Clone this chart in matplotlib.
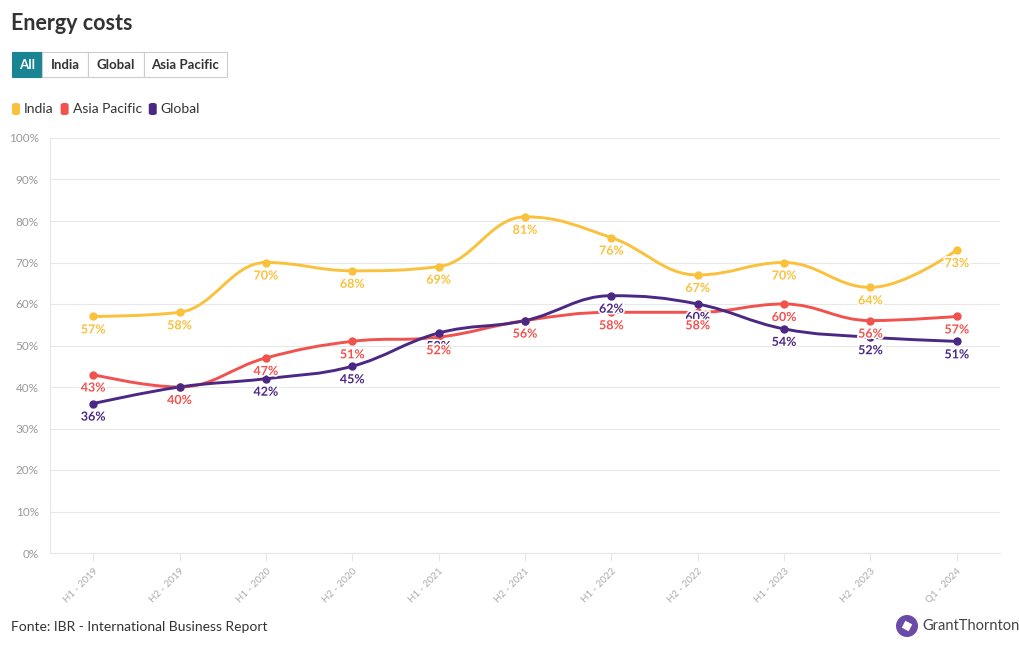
import matplotlib
matplotlib.use("Agg")
import matplotlib.pyplot as plt
import matplotlib.patheffects as pe
from matplotlib.path import Path
from matplotlib.patches import PathPatch, FancyBboxPatch, Rectangle, Circle, RegularPolygon

plt.rcParams['font.family'] = ['Lato', 'DejaVu Sans']

periods = ['H1 - 2019', 'H2 - 2019', 'H1 - 2020', 'H2 - 2020', 'H1 - 2021', 'H2 - 2021',
           'H1 - 2022', 'H2 - 2022', 'H1 - 2023', 'H2 - 2023', 'Q1 - 2024']
india = [57, 58, 70, 68, 69, 81, 76, 67, 70, 64, 73]
asia_pacific = [43, 40, 47, 51, 52, 56, 58, 58, 60, 56, 57]
global_ = [36, 40, 42, 45, 53, 56, 62, 60, 54, 52, 51]

series = [
    ('India', india, '#F9C13C'),
    ('Asia Pacific', asia_pacific, '#F1524E'),
    ('Global', global_, '#4A2883'),
]


def spline_path(xs, ys, smooth=1.5):
    # spline a la Highcharts : points de controle bezier autour de chaque point
    n = len(xs)
    left = [(xs[i], ys[i]) for i in range(n)]
    right = [(xs[i], ys[i]) for i in range(n)]
    den = smooth + 1
    for i in range(1, n - 1):
        x, y = xs[i], ys[i]
        lx, ly = xs[i - 1], ys[i - 1]
        nx, ny = xs[i + 1], ys[i + 1]
        lcx, lcy = (smooth * x + lx) / den, (smooth * y + ly) / den
        rcx, rcy = (smooth * x + nx) / den, (smooth * y + ny) / den
        if rcx != lcx:
            corr = (rcy - lcy) * (rcx - x) / (rcx - lcx) + y - rcy
            lcy += corr
            rcy += corr
        if lcy > ly and lcy > y:
            lcy = max(ly, y)
            rcy = 2 * y - lcy
        elif lcy < ly and lcy < y:
            lcy = min(ly, y)
            rcy = 2 * y - lcy
        if rcy > ny and rcy > y:
            rcy = max(ny, y)
            lcy = 2 * y - rcy
        elif rcy < ny and rcy < y:
            rcy = min(ny, y)
            lcy = 2 * y - rcy
        left[i] = (lcx, lcy)
        right[i] = (rcx, rcy)
    verts = [(xs[0], ys[0])]
    codes = [Path.MOVETO]
    for i in range(1, n):
        verts += [right[i - 1], left[i], (xs[i], ys[i])]
        codes += [Path.CURVE4] * 3
    return Path(verts, codes)


fig = plt.figure(figsize=(10.2, 6.5), dpi=100)
ax = fig.add_axes([50 / 1020, 1 - 553 / 650, 950 / 1020, 415 / 650])

x = list(range(len(periods)))
for name, vals, col in series:
    ax.add_patch(PathPatch(spline_path(x, vals), fill=False, edgecolor=col, lw=2.1,
                           zorder=3, capstyle='round', joinstyle='round'))
    ax.plot(x, vals, 'o', color=col, ms=5, zorder=4)

# etiquettes : celles de Global cachees quand elles tombent pile sur Asia Pacific
halo = [pe.withStroke(linewidth=2.5, foreground='white')]
for name, vals, col in [series[0], series[2], series[1]]:
    for xi, v in zip(x, vals):
        if name == 'Global' and v == asia_pacific[xi]:
            continue
        ax.annotate(f'{v}%', (xi, v), xytext=(0, -13), textcoords='offset pixels',
                    ha='center', va='center', fontsize=9, fontweight='bold',
                    color=col, zorder=5, path_effects=halo)

ax.set_xlim(-0.5, 10.5)
ax.set_ylim(0, 100)
ax.set_yticks(range(0, 101, 10))
ax.set_yticklabels([f'{v}%' for v in range(0, 101, 10)])
ax.set_xticks(x)
ax.set_xticklabels(periods, rotation=45, ha='right', rotation_mode='anchor')
ax.grid(axis='y', color='#e8e8e8', lw=0.8)
ax.set_axisbelow(True)
for s in ['top', 'right']:
    ax.spines[s].set_visible(False)
for s in ['left', 'bottom']:
    ax.spines[s].set_color('#e6e6e6')
    ax.spines[s].set_linewidth(0.8)
ax.tick_params(axis='y', length=0, labelsize=8.5, labelcolor='#999999', pad=8)
ax.tick_params(axis='x', length=6, color='#e6e6e6', labelsize=7, labelcolor='#aaaaaa', pad=4)

# titre
fig.text(11 / 1020, 1 - 24 / 650, 'Energy costs', fontsize=15.5, fontweight='bold',
         color='#333333', va='center', ha='left')

# boutons
btns = [('All', 12, 42), ('India', 42, 88), ('Global', 88, 144), ('Asia Pacific', 144, 227)]
for i, (lbl, x0, x1) in enumerate(btns):
    active = i == 0
    r = Rectangle((x0 / 1020, 1 - 77 / 650), (x1 - x0) / 1020, 25 / 650,
                  transform=fig.transFigure, facecolor='#1A8592' if active else 'white',
                  edgecolor='#1A8592' if active else '#cccccc', lw=0.8)
    fig.patches.append(r)
    fig.text((x0 + x1) / 2 / 1020, 1 - 65 / 650, lbl, ha='center', va='center',
             fontsize=9.5, fontweight='bold', color='white' if active else '#333333')

# legende
lx = 12
for name, vals, col in series:
    sq = FancyBboxPatch((lx / 1020, 1 - 115 / 650), 8 / 1020, 12 / 650,
                        boxstyle='round,pad=0,rounding_size=0.003',
                        transform=fig.transFigure, facecolor=col, edgecolor='none')
    fig.patches.append(sq)
    t = fig.text((lx + 12) / 1020, 1 - 109 / 650, name, ha='left', va='center',
                 fontsize=10, color='#333333')
    fig.canvas.draw()
    bb = t.get_window_extent()
    lx = bb.x1 + 7

# pied de page
fig.text(11 / 1020, 1 - 627 / 650, 'Fonte: IBR - International Business Report',
         fontsize=10, color='#333333', va='center', ha='left')

# logo
lax = fig.add_axes([896 / 1020, 1 - 637 / 650, 22 / 1020, 22 / 650])
lax.set_xlim(-1, 1)
lax.set_ylim(-1, 1)
lax.set_aspect('equal')
lax.axis('off')
lax.add_patch(Circle((0, 0), 1, facecolor='#6A4BA8', edgecolor='none'))
lax.add_patch(RegularPolygon((0, 0), 4, radius=0.5, orientation=0.3, facecolor='white',
                             edgecolor='none'))
fig.text(922 / 1020, 1 - 626 / 650, 'GrantThornton', fontsize=10.5, color='#444444',
         va='center', ha='left')

fig.savefig('out.png', dpi=100)
